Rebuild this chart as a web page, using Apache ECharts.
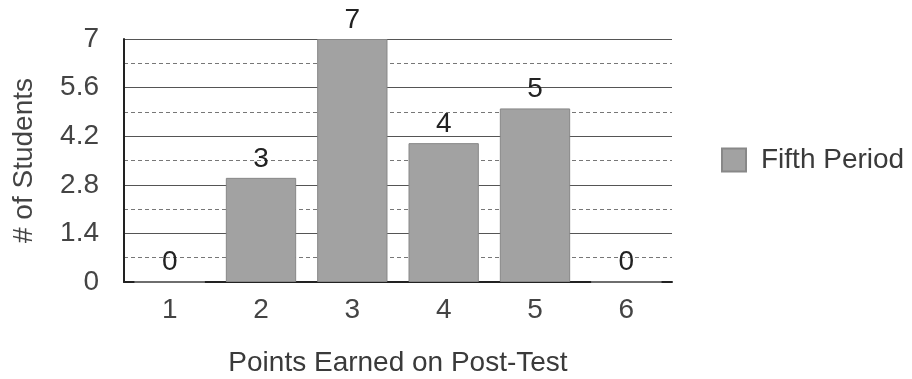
<!DOCTYPE html>
<html><head><meta charset="utf-8">
<script src="https://cdn.jsdelivr.net/npm/echarts@6/dist/echarts.min.js"></script>
<style>html,body{margin:0;padding:0;background:#fff}#c{width:912px;height:379px}</style>
</head><body><div id="c"></div>
<script>
const categories = ['1','2','3','4','5','6'];
const fifthPeriod = [0,3,7,4,5,0];
const yTicks = [0,1.4,2.8,4.2,5.6,7];
const chart = echarts.init(document.getElementById('c'));
const font = 'Liberation Sans, Arial, sans-serif';
chart.setOption({
  animation:false,
  textStyle:{fontFamily:font},
  legend:{
    data:[{name:'Fifth Period', icon:'rect'}], orient:'vertical', left:716, top:141,
    itemWidth:24, itemHeight:23, itemGap:8,
    textStyle:{fontSize:28, color:'#3a3a3a', fontFamily:font, padding:[0,0,0,10]}
  },
  grid:{left:124, right:240, top:39, bottom:97, outerBoundsMode:'none', containLabel:false},
  xAxis:{
    type:'category', data:categories,
    name:'Points Earned on Post-Test', nameLocation:'middle', nameGap:67,
    nameTextStyle:{fontSize:28, color:'#3a3a3a', fontFamily:font},
    axisLine:{lineStyle:{color:'#222', width:2}},
    axisTick:{show:false},
    axisLabel:{fontSize:28, color:'#444', margin:14, fontFamily:font}
  },
  yAxis:{
    type:'value', min:0, max:7, interval:1.4,
    name:'# of Students', nameLocation:'middle', nameGap:86, nameRotate:90,
    nameTextStyle:{fontSize:28, color:'#444', fontFamily:font},
    axisLine:{show:true, lineStyle:{color:'#222', width:2}},
    axisTick:{show:false},
    axisLabel:{fontSize:28, color:'#444', margin:25, fontFamily:font,
      formatter:v=>{const t=yTicks.find(x=>Math.abs(x-v)<1e-6);return t===undefined?'':String(t);}},
    splitLine:{lineStyle:{color:'#555', width:1.2}},
    minorTick:{show:false, splitNumber:2},
    minorSplitLine:{show:true, lineStyle:{color:'#777', type:[4,3], width:1}}
  },
  series:[{
    name:'Fifth Period', type:'bar', data:fifthPeriod, barCategoryGap:'23%',
    itemStyle:{color:'#a2a2a2', borderColor:'#888', borderWidth:1},
    label:{show:true, position:'top', distance:5, fontSize:28, color:'#222', fontFamily:font}
  }]
});
</script></body></html>
